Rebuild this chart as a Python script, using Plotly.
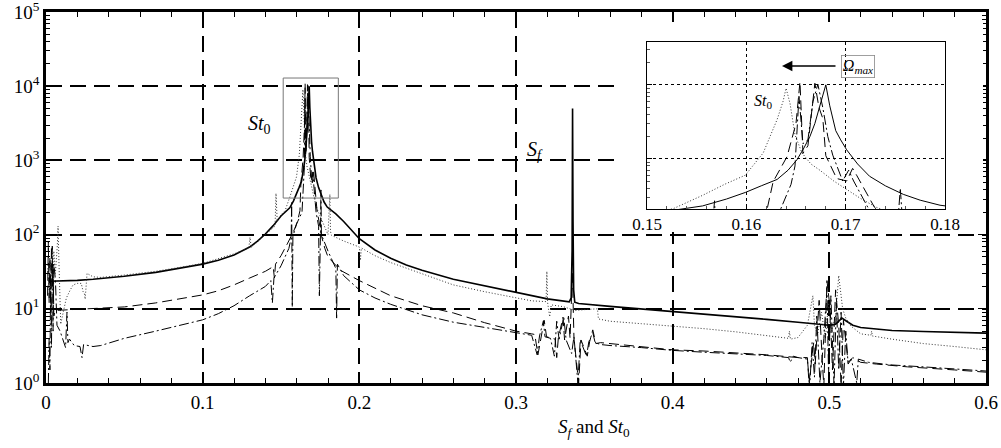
import plotly.graph_objects as go

# ---------------- data ----------------
solid_x = [0.002, 0.01, 0.02, 0.03, 0.05, 0.07, 0.09, 0.10, 0.11, 0.12, 0.13, 0.135, 0.14, 0.145, 0.15,
           0.153, 0.1556, 0.158, 0.1599, 0.1615, 0.1631, 0.1642, 0.1651, 0.1658, 0.1664, 0.1669, 0.1674,
           0.1677, 0.168, 0.1684, 0.169, 0.1695, 0.1701, 0.1712, 0.1724, 0.174, 0.1758, 0.1775, 0.1795,
           0.185, 0.19, 0.195, 0.2, 0.21, 0.22, 0.23, 0.24, 0.26, 0.28, 0.3, 0.32, 0.334, 0.3352, 0.3358,
           0.3361, 0.3364, 0.3368, 0.3375, 0.34, 0.36, 0.38, 0.4, 0.42, 0.44, 0.46, 0.48, 0.5, 0.504,
           0.508, 0.511, 0.515, 0.52, 0.53, 0.54, 0.56, 0.58, 0.6]
solid_y = [23.5, 23.7, 24.2, 25, 27.5, 31, 36.5, 40, 45, 53, 68, 82, 102, 132, 178,
           205, 230, 285, 350, 430, 525, 700, 970, 1400, 2000, 3000, 5000,
           7000, 10000, 5200, 2400, 1800, 1320, 850, 580, 430, 330, 275, 235,
           190, 150, 115, 88, 62, 48, 39, 33, 25, 20.5, 16.5, 13.6, 12.4, 14, 60,
           5000, 150, 18, 12.3, 11.8, 10.8, 10, 9.1, 8.4, 7.8, 7.2, 6.6, 6.0, 6.2,
           7.5, 6.8, 6.0, 5.6, 5.3, 5.1, 4.95, 4.8, 4.7]

dot_x = [0.001, 0.002, 0.003, 0.004, 0.005, 0.006, 0.0072, 0.0077, 0.0083, 0.0094, 0.011, 0.013,
         0.0155, 0.0173, 0.02, 0.0225, 0.0237, 0.0245, 0.025, 0.0262, 0.03, 0.035, 0.05, 0.07, 0.09,
         0.1, 0.12, 0.1295, 0.1302, 0.131, 0.14, 0.1462, 0.1468, 0.1476, 0.15, 0.1526, 0.1556,
         0.1578, 0.1599, 0.1617, 0.1631, 0.1637, 0.164, 0.1644, 0.1649, 0.1656, 0.1665, 0.1674,
         0.1688, 0.1701, 0.1715, 0.1731, 0.176, 0.18, 0.1812, 0.1816, 0.1822, 0.19, 0.2, 0.2007,
         0.2013, 0.21, 0.22, 0.24, 0.26, 0.28, 0.3, 0.31, 0.3192, 0.3197, 0.3202, 0.3215, 0.3225,
         0.33, 0.3345, 0.338, 0.345, 0.352, 0.3526, 0.36, 0.38, 0.4, 0.42, 0.44, 0.46, 0.474,
         0.4745, 0.4752, 0.48, 0.486, 0.4895, 0.4905, 0.4925, 0.495, 0.4975, 0.4995, 0.5015,
         0.504, 0.506, 0.5085, 0.5105, 0.514, 0.52, 0.5265, 0.527, 0.5275, 0.54, 0.56, 0.58, 0.6]
dot_y = [35, 18, 45, 25, 60, 30, 70, 130, 40, 6.2, 9, 14,
         18, 21, 22, 22, 17, 16, 13.5, 30, 27, 26.5, 28.5, 32, 37.5,
         41, 55, 66, 92, 67, 100, 130, 360, 150, 185, 210, 320,
         450, 600, 1200, 3400, 6000, 9000, 5600, 2100, 1200, 850, 700,
         500, 380, 290, 220, 160, 100, 350, 110, 98, 82, 68, 45,
         66, 52, 42, 29.5, 21, 17, 14, 12.8, 12.5, 32, 12, 7.8, 11.3,
         10.7, 10, 9.5, 9.8, 10, 7.3, 6.8, 6.3, 5.9, 5.4, 4.9, 4.4, 4.0,
         5.0, 3.9, 4.1, 6, 15, 6, 4.5, 9, 4, 12, 5,
         8, 28, 10, 7.5, 5.8, 4.6, 4.4, 5.0, 4.3, 3.9, 3.4, 3.1, 2.8]

dash_x = [0.001, 0.0015, 0.002, 0.0025, 0.003, 0.0035, 0.004, 0.0045, 0.005, 0.006, 0.01, 0.02, 0.03,
          0.04, 0.05, 0.07, 0.09, 0.1, 0.11, 0.12, 0.13, 0.14, 0.145, 0.1458, 0.1465, 0.15, 0.154,
          0.158, 0.1605, 0.1621, 0.1627, 0.1641, 0.165, 0.1654, 0.1657, 0.1662, 0.1666, 0.1669,
          0.1673, 0.1677, 0.168, 0.1691, 0.1701, 0.1707, 0.1711, 0.1729, 0.176, 0.178, 0.18, 0.184,
          0.188, 0.2, 0.21, 0.22, 0.24, 0.26, 0.28, 0.3, 0.31, 0.312, 0.314, 0.316, 0.318, 0.3195,
          0.325, 0.326, 0.327, 0.33, 0.331, 0.3335, 0.3345, 0.336, 0.337, 0.34, 0.3415, 0.3455,
          0.347, 0.349, 0.351, 0.354, 0.36, 0.38, 0.4, 0.42, 0.44, 0.46, 0.48, 0.486, 0.487, 0.4885,
          0.49, 0.491, 0.4935, 0.4955, 0.4965, 0.4985, 0.5005, 0.502, 0.504, 0.506, 0.5075, 0.509,
          0.512, 0.515, 0.52, 0.53, 0.55, 0.58, 0.6]
dash_y = [15, 80, 12, 50, 9, 70, 20, 40, 8, 9.5, 9.6, 9.8, 10,
          10.2, 10.6, 12, 14, 15.4, 17.5, 21, 26, 32, 37, 26, 40, 52, 75,
          110, 150, 210, 490, 1070, 3000, 11000, 1180, 1500, 4900, 10500,
          5000, 3500, 1100, 540, 500, 740, 600, 220, 93, 65, 50, 40,
          33, 24, 19, 15, 11, 8.8, 6.5, 5.0, 4.6, 4.5, 2.4, 4.4, 7, 4.2,
          3.9, 2.2, 4, 7.7, 3.8, 8, 4, 30, 4, 1.0, 3.8, 2.3,
          3.6, 5.2, 3.4, 3.5, 3.4, 3.1, 2.8, 2.7, 2.55, 2.4, 2.2, 2.2, 1.0, 2.0,
          3.5, 1.8, 13, 2, 0.9, 24, 10, 1.5, 18, 6, 0.9, 7,
          1.9, 2.2, 1.9, 1.8, 1.65, 1.5, 1.4]

dd_x = [0.0015, 0.002, 0.0025, 0.003, 0.0035, 0.004, 0.0045, 0.005, 0.006, 0.007, 0.009, 0.011, 0.0125,
        0.0134, 0.014, 0.015, 0.018, 0.0217, 0.023, 0.024, 0.03, 0.035, 0.05, 0.07, 0.09, 0.1, 0.11,
        0.12, 0.13, 0.14, 0.1435, 0.1445, 0.1455, 0.15, 0.155, 0.1565, 0.1568, 0.1572, 0.1576, 0.16,
        0.1634, 0.1645, 0.1649, 0.1653, 0.1657, 0.1662, 0.1667, 0.1672, 0.1677, 0.1682, 0.1687,
        0.1697, 0.1703, 0.1708, 0.1724, 0.174, 0.1745, 0.1752, 0.1755, 0.1758, 0.18, 0.185, 0.1855,
        0.186, 0.19, 0.2, 0.21, 0.22, 0.24, 0.26, 0.28, 0.3, 0.305, 0.31, 0.3135, 0.315, 0.3175,
        0.3185, 0.322, 0.3245, 0.326, 0.3275, 0.3305, 0.332, 0.3355, 0.337, 0.3395, 0.341, 0.345,
        0.3465, 0.349, 0.3505, 0.354, 0.36, 0.38, 0.4, 0.42, 0.44, 0.46, 0.474, 0.475, 0.477, 0.48,
        0.486, 0.4875, 0.489, 0.4905, 0.492, 0.494, 0.4965, 0.4985, 0.4995, 0.501, 0.503, 0.5045,
        0.506, 0.5075, 0.509, 0.5105, 0.512, 0.514, 0.5175, 0.5185, 0.525, 0.54, 0.56, 0.58, 0.6]
dd_y = [1.0, 4, 1.5, 30, 3, 70, 5, 40, 25, 6, 5, 3.6, 3.0,
        9, 3.5, 3.9, 3.2, 3.1, 2.2, 3.3, 3.1, 3.2, 4, 5, 6.3, 7.1, 8.6,
        11, 15, 20, 24, 12, 26, 38, 65, 90, 270, 10.5, 95, 140,
        200, 450, 800, 7000, 1600, 1800, 5900, 10200, 4900, 2000, 1120,
        500, 700, 500, 200, 130, 15, 110, 400, 100, 60, 35, 7.5,
        40, 28, 18, 14, 11.5, 8.3, 6.6, 5.6, 4.8, 4.6, 4.4, 2.4, 4.3, 6.9,
        4.2, 4.0, 2.3, 6.8, 3.9, 7.7, 3.8, 2.5, 4.2, 1.0, 3.8, 2.3,
        3.6, 4.8, 3.5, 3.3, 3.2, 3.0, 2.75, 2.6, 2.5, 2.35, 2.2, 1.9, 2.3, 2.2,
        2.1, 0.9, 3.5, 1.2, 8, 1.0, 4, 20, 1.3, 15, 0.9, 12,
        1.5, 9, 0.9, 5, 1.8, 2.1, 1.0, 2.1, 1.9, 1.75, 1.65, 1.55, 1.45]

x_ticks = [0, 0.1, 0.2, 0.3, 0.4, 0.5, 0.6]
x_labels = ["0", "0.1", "0.2", "0.3", "0.4", "0.5", "0.6"]
y_ticks = [1, 10, 100, 1000, 10000, 100000]
y_labels = ["10<sup>0</sup>", "10<sup>1</sup>", "10<sup>2</sup>", "10<sup>3</sup>",
            "10<sup>4</sup>", "10<sup>5</sup>"]
inset_x_ticks = [0.15, 0.16, 0.17, 0.18]
inset_x_labels = ["0.15", "0.16", "0.17", "0.18"]
zoom_box_x = [0.1514, 0.1866]
zoom_box_y = [311, 12900]

# ---------------- layout helpers ----------------
W, H = 1001, 448
FONT = "'Liberation Serif', 'Times New Roman', 'DejaVu Serif', serif"


def px(x):
    return x / W


def py(y):
    return 1 - y / H


minor_log = [m * 10 ** e for e in range(0, 5) for m in range(2, 10)]

styles = [
    (solid_x, solid_y, dict(color="black", width=1.6, dash="solid")),
    (dot_x, dot_y, dict(color="#333333", width=1, dash="1px,2px")),
    (dash_x, dash_y, dict(color="black", width=1, dash="10px,5px")),
    (dd_x, dd_y, dict(color="black", width=1, dash="10px,3px,2px,3px")),
]

fig = go.Figure()
for xs, ys, ln in styles:
    fig.add_trace(go.Scatter(x=xs, y=ys, mode="lines", line=ln, showlegend=False,
                             xaxis="x", yaxis="y"))
# cover subplot (white panel behind the inset)
fig.add_trace(go.Scatter(x=[], y=[], xaxis="x2", yaxis="y2", showlegend=False))
for xs, ys, ln in styles:
    l2 = dict(ln)
    l2["width"] = 1
    fig.add_trace(go.Scatter(x=xs, y=ys, mode="lines", line=l2, showlegend=False,
                             xaxis="x3", yaxis="y3"))

grid_dash = "16px,8px"
fig.update_layout(
    width=W, height=H,
    margin=dict(l=0, r=0, t=0, b=0, autoexpand=False),
    paper_bgcolor="white", plot_bgcolor="white",
    font=dict(family=FONT, color="black", size=18),
    xaxis=dict(domain=[px(46), px(986)], range=[0, 0.6], anchor="y", automargin=False,
               tickmode="array", tickvals=x_ticks, ticktext=x_labels,
               ticklabeloverflow="allow",
               ticks="inside", ticklen=8, tickwidth=1.2, tickcolor="black",
               showline=True, linecolor="black", linewidth=2.5, mirror="ticks",
               showgrid=True, gridcolor="black", gridwidth=1.6, griddash=grid_dash,
               zeroline=False, tickfont=dict(size=19, family=FONT),
               minor=dict(dtick=0.02, tick0=0, ticks="inside", ticklen=5,
                          tickcolor="black", showgrid=False)),
    yaxis=dict(domain=[py(383), py(12)], type="log", range=[0, 5.0005], anchor="x",
               automargin=False, ticklabeloverflow="allow",
               tickmode="array", tickvals=y_ticks, ticktext=y_labels,
               ticks="inside", ticklen=8, tickwidth=1.2, tickcolor="black",
               showline=True, linecolor="black", linewidth=2.5, mirror="ticks",
               showgrid=True, gridcolor="black", gridwidth=1.6, griddash=grid_dash,
               zeroline=False, tickfont=dict(size=19, family=FONT),
               minor=dict(tickmode="array", tickvals=minor_log, ticks="inside",
                          ticklen=4, tickcolor="black", showgrid=False)),
    xaxis2=dict(domain=[px(618), px(983)], range=[0, 1], anchor="y2", visible=False,
                showgrid=False, zeroline=False, automargin=False),
    yaxis2=dict(domain=[py(232), py(22)], range=[0, 1], anchor="x2", visible=False,
                showgrid=False, zeroline=False, automargin=False),
    xaxis3=dict(domain=[px(647), px(945)], range=[0.15, 0.18], anchor="y3", automargin=False,
                tickmode="array", tickvals=inset_x_ticks, ticktext=inset_x_labels,
                ticks="inside", ticklen=4, tickcolor="black",
                showline=True, linecolor="black", linewidth=1, mirror=True,
                showgrid=True, gridcolor="black", gridwidth=0.8, griddash="3px,3px",
                zeroline=False, tickfont=dict(size=17, family=FONT),
                minor=dict(dtick=0.002, tick0=0.15, ticks="inside", ticklen=3,
                           tickcolor="#555", showgrid=False)),
    yaxis3=dict(domain=[py(209), py(42)], type="log", range=[2.32, 4.58], anchor="x3",
                automargin=False,
                tickmode="array", tickvals=[1000, 10000], showticklabels=False,
                ticks="inside", ticklen=5, tickcolor="black",
                showline=True, linecolor="black", linewidth=1, mirror=True,
                showgrid=True, gridcolor="black", gridwidth=0.8, griddash="3px,3px",
                zeroline=False,
                minor=dict(tickmode="array", tickvals=minor_log, ticks="inside",
                           ticklen=3, tickcolor="#555", showgrid=False)),
)

# zoom rectangle on the main plot
fig.add_shape(type="rect", xref="x", yref="y", x0=zoom_box_x[0], x1=zoom_box_x[1],
              y0=zoom_box_y[0], y1=zoom_box_y[1],
              line=dict(color="#777777", width=1), layer="above")

ann = [
    dict(x=px(259), y=py(124), text="<i>St</i><sub>0</sub>", font=dict(size=20)),
    dict(x=px(535), y=py(150), text="<i>S</i><sub><i>f</i></sub>", font=dict(size=20)),
    dict(x=px(763), y=py(101), text="<i>St</i><sub>0</sub>", font=dict(size=16)),
    dict(x=px(858), y=py(66), text="<i>Ω</i><sub><i>max</i></sub>", font=dict(size=16),
         bordercolor="#888888", borderwidth=0.8, borderpad=1),
    dict(x=px(594), y=py(428), text="<i>S</i><sub><i>f</i></sub> and <i>St</i><sub>0</sub>",
         font=dict(size=19)),
]
for a in ann:
    fig.add_annotation(xref="paper", yref="paper", showarrow=False,
                       xanchor="center", yanchor="middle", **a)

fig.add_annotation(xref="paper", yref="paper", x=px(782), y=py(66), ax=55, ay=0,
                   text="", showarrow=True, arrowhead=2, arrowsize=1.3, arrowwidth=1.6,
                   arrowcolor="black")

# remove the default page margin so the figure sits at the window's top-left corner
fig.write_html("out.html", config={"displayModeBar": False},
               post_script="document.body.style.margin='0';")
